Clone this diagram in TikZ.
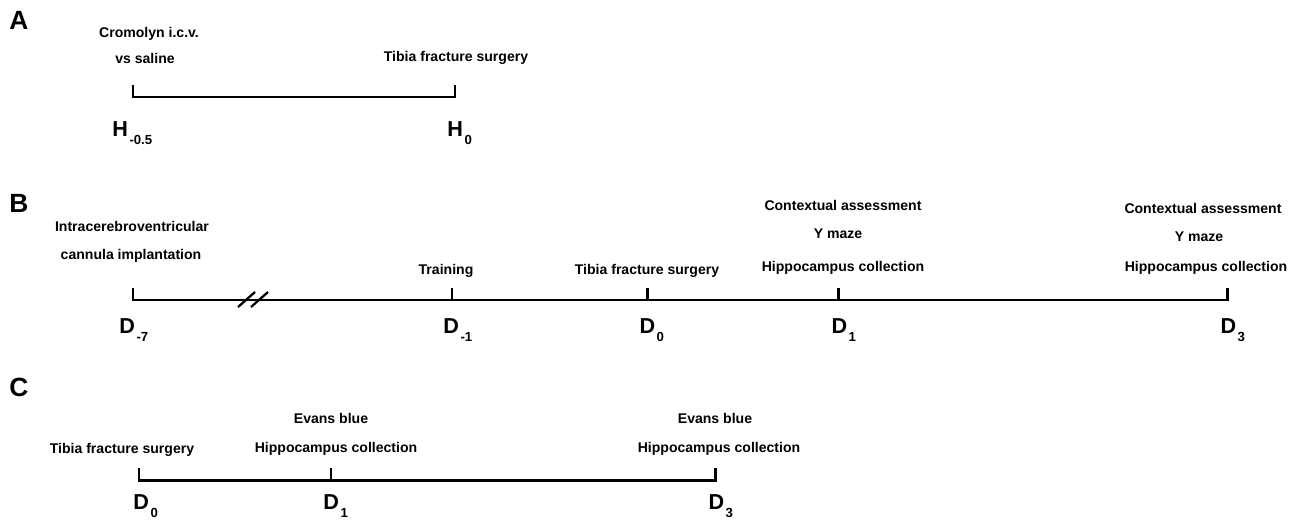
\documentclass[tikz,border=0pt]{standalone}
\usepackage{fontspec}
\setmainfont{Liberation Sans}
% day label with lowered index
\newcommand{\daylab}[2]{#1\kern0.8pt\raisebox{-5pt}{\fontsize{7.5}{8}\selectfont #2}}
\begin{document}
\begin{tikzpicture}[x=0.02cm, y=-0.02cm, line width=1.7pt,
	panel/.style={font=\fontsize{15}{17}\selectfont\bfseries, anchor=base west, inner sep=0pt},
	evt/.style={font=\fontsize{8}{9}\selectfont\bfseries, anchor=base, inner sep=0pt},
	day/.style={font=\fontsize{12.3}{14}\selectfont\bfseries, anchor=base west, inner sep=0pt}]
	\useasboundingbox (0,0) rectangle (1298,521);
	
	% === A ===
	\node[panel] (pa) at (8,29) {A};
	\coordinate (a0) at (133,97);
	\coordinate (a1) at (455,97);
	\draw (a0) ++(0,-12) -- (a0) -- (a1) -- ++(0,-12);
	\node[evt] (acrom) at (149,37) {Cromolyn i.c.v.};
	\node[evt] (asal) at (145,63) {vs saline};
	\node[evt] (atib) at (456,61) {Tibia fracture surgery};
	\node[day] (ah0) at (111,136) {\daylab{H}{-0.5}};
	\node[day] (ah1) at (446,136) {\daylab{H}{0}};
	
	% === B ===
	\node[panel] (pb) at (8,212) {B};
	\coordinate (b0) at (133,300);
	\coordinate (b1) at (452,300);
	\coordinate (b2) at (647,300);
	\coordinate (b3) at (838,300);
	\coordinate (b4) at (1227,300);
	\draw (b0) ++(0,-12) -- (b0) -- (b4) -- ++(0,-12);
	\foreach \t in {b1,b2,b3}
		\draw (\t) -- ++(0,-12);
	% Unterbrechung
	\draw[line width=1.3pt] (238,307) -- (255,292);
	\draw[line width=1.3pt] (251,307) -- (268,292);
	
	\node[evt] (bicv) at (132,231) {Intracerebroventricular};
	\node[evt] (bcan) at (131,259) {cannula implantation};
	\node[evt] (btrain) at (446,274) {Training};
	\node[evt] (btib) at (647,274) {Tibia fracture surgery};
	\node[evt] (bctx1) at (843,210) {Contextual assessment};
	\node[evt] (bym1) at (838,238) {Y maze};
	\node[evt] (bhip1) at (843,271) {Hippocampus collection};
	\node[evt] (bctx3) at (1203,213) {Contextual assessment};
	\node[evt] (bym3) at (1199,241) {Y maze};
	\node[evt] (bhip3) at (1206,271) {Hippocampus collection};
	
	\node[day] (bd0) at (118,333) {\daylab{D}{-7}};
	\node[day] (bd1) at (442,333) {\daylab{D}{-1}};
	\node[day] (bd2) at (638,333) {\daylab{D}{0}};
	\node[day] (bd3) at (830,333) {\daylab{D}{1}};
	\node[day] (bd4) at (1219,333) {\daylab{D}{3}};
	
	% === C ===
	\node[panel] (pc) at (8,396) {C};
	\coordinate (c0) at (139,480);
	\coordinate (c1) at (331,480);
	\coordinate (c2) at (715,480);
	\draw (c0) ++(0,-12) -- (c0) -- (c2) -- ++(0,-12);
	\draw (c1) -- ++(0,-12);
	
	\node[evt] (ctib) at (122,453) {Tibia fracture surgery};
	\node[evt] (ceb1) at (331,423) {Evans blue};
	\node[evt] (chip1) at (336,452) {Hippocampus collection};
	\node[evt] (ceb3) at (715,423) {Evans blue};
	\node[evt] (chip3) at (719,452) {Hippocampus collection};
	
	\node[day] (cd0) at (132,509) {\daylab{D}{0}};
	\node[day] (cd1) at (322,509) {\daylab{D}{1}};
	\node[day] (cd2) at (707,509) {\daylab{D}{3}};
\end{tikzpicture}
\end{document}
